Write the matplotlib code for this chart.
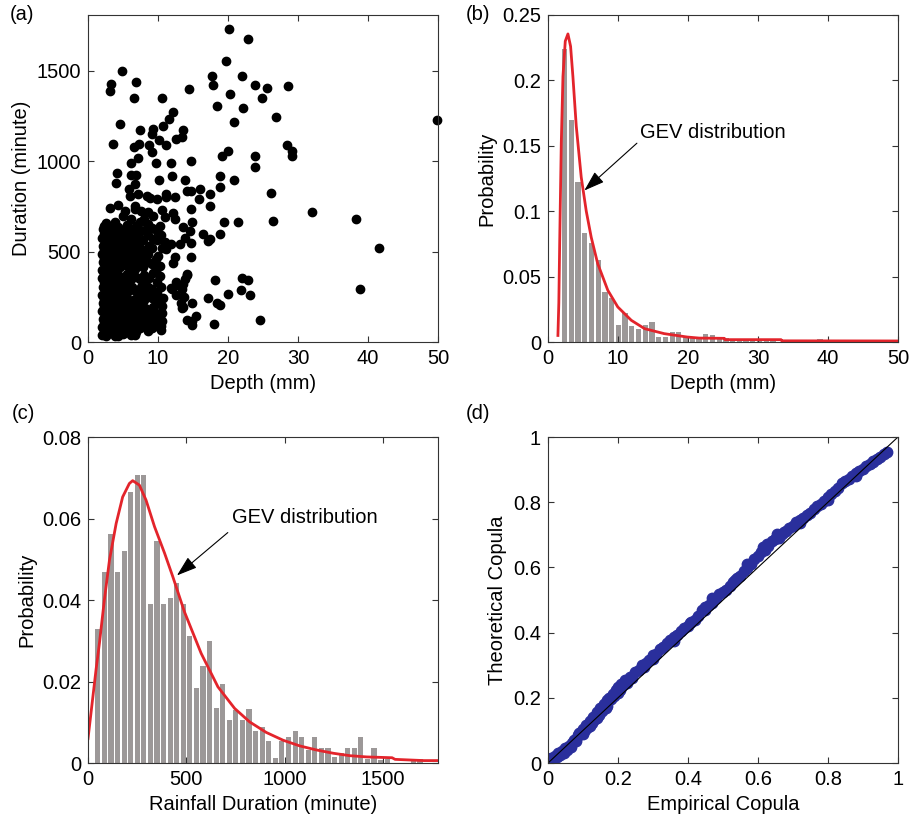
import numpy as np
import matplotlib
matplotlib.use("Agg")
from matplotlib import pyplot as plt
from matplotlib import ticker

plt.rcParams["font.family"] = ["Liberation Sans", "DejaVu Sans"]
plt.rcParams["font.size"] = 14.5

# (a) rainfall events: (depth mm, duration min)
outer_pts = [
    (20.2, 1731), (22.9, 1672), (19.7, 1550), (4.8, 1496), (17.7, 1472), (22.0, 1472),
    (6.9, 1439), (3.3, 1424), (3.1, 1387), (17.9, 1420), (23.9, 1420), (25.6, 1404),
    (28.6, 1413), (14.5, 1398), (6.6, 1346), (20.3, 1369), (24.9, 1346), (10.5, 1346),
    (18.4, 1304), (22.2, 1294), (12.1, 1272), (26.9, 1243), (49.8, 1226), (4.6, 1202),
    (20.8, 1213), (11.6, 1230), (10.7, 1193), (7.4, 1170), (9.3, 1176), (9.1, 1152),
    (13.5, 1170), (13.4, 1135), (12.6, 1124), (10.2, 1115), (11.2, 1087), (3.6, 1093),
    (7.3, 1093), (6.6, 1078), (8.7, 1087), (9.1, 1050), (28.4, 1087), (29.1, 1054),
    (29.2, 1028), (20.0, 1054), (19.2, 1028), (23.9, 1026), (23.9, 967), (7.1, 1017),
    (6.2, 991), (9.7, 991), (11.9, 991), (14.7, 1000), (4.1, 935), (4.0, 878),
    (6.2, 925), (6.9, 925), (6.7, 874), (5.9, 846), (12.0, 920), (18.9, 920),
    (20.9, 893), (13.9, 893), (10.2, 893), (18.9, 856), (16.0, 843), (17.5, 819),
    (26.2, 824), (15.9, 791), (14.2, 833), (14.7, 833), (17.5, 750), (11.2, 800),
    (12.4, 800), (11.2, 818), (6.0, 809), (7.2, 818), (8.4, 809), (8.8, 794),
    (9.8, 790), (6.7, 753), (6.7, 735), (3.1, 738), (4.3, 757), (5.3, 725),
    (7.6, 725), (8.6, 716), (9.3, 698), (10.5, 729), (11.0, 688), (12.2, 712),
    (12.4, 679), (14.7, 735), (13.6, 633), (32.0, 717), (38.3, 680), (26.5, 670),
    (21.4, 665), (19.4, 665), (14.8, 665), (16.4, 596), (17.1, 559), (17.4, 569),
    (18.9, 596), (41.6, 520), (14.7, 546), (14.6, 611), (13.8, 572), (13.2, 541),
    (11.9, 540), (11.2, 513), (11.0, 550), (12.4, 467), (12.2, 439), (10.0, 476),
    (9.8, 411), (10.3, 420), (14.7, 469), (14.1, 374), (13.8, 346), (13.6, 318),
    (13.4, 294), (12.5, 257), (13.3, 216), (13.4, 188), (11.9, 300), (10.7, 244),
    (10.3, 226), (9.8, 216), (10.5, 161), (9.3, 152), (8.6, 143), (10.5, 115),
    (10.4, 68), (9.1, 96), (9.8, 87), (7.2, 78), (6.0, 59), (6.7, 41), (5.3, 59),
    (4.3, 31), (14.8, 115), (18.1, 343), (22.0, 354), (22.9, 343), (21.9, 287),
    (23.1, 261), (38.9, 294), (20.0, 263), (17.2, 244), (18.4, 213), (18.9, 202),
    (14.8, 213), (13.5, 194), (13.7, 248), (12.0, 294), (13.1, 309), (15.5, 146),
    (14.1, 119), (14.9, 96), (18.0, 102), (24.6, 120), (14.1, 369), (12.5, 331),
]
core_pts = [
    (2.0, 38), (2.0, 82), (2.1, 128), (2.0, 171), (2.1, 218), (2.0, 262), (2.1, 305),
    (2.0, 352), (2.0, 398), (2.1, 441), (2.0, 487), (2.1, 533), (2.0, 575), (2.1, 622),
    (2.3, 60), (2.3, 104), (2.4, 150), (2.3, 195), (2.3, 240), (2.4, 285), (2.3, 330),
    (2.3, 375), (2.4, 420), (2.3, 465), (2.3, 510), (2.4, 555), (2.3, 598), (2.3, 640),
    (2.6, 34), (2.5, 76), (2.6, 118), (2.7, 163), (2.5, 209), (2.6, 251), (2.7, 297),
    (2.5, 343), (2.6, 388), (2.7, 432), (2.5, 478), (2.6, 522), (2.7, 568), (2.5, 612),
    (2.6, 658), (2.9, 55), (2.9, 100), (3.0, 146), (2.9, 190), (2.9, 235), (3.0, 280),
    (2.9, 325), (2.9, 370), (3.0, 415), (2.9, 460), (2.9, 505), (3.0, 550), (2.9, 600),
    (3.2, 48), (3.1, 93), (3.3, 137), (3.2, 183), (3.1, 228), (3.3, 272),
    (3.2, 318), (3.1, 362), (3.3, 407), (3.2, 452), (3.1, 498), (3.3, 543), (3.2, 588),
    (3.1, 633), (3.5, 60), (3.5, 105), (3.5, 150), (3.6, 195), (3.5, 240), (3.5, 285),
    (3.6, 330), (3.5, 375), (3.5, 420), (3.6, 465), (3.5, 510), (3.5, 555), (3.6, 600),
    (3.8, 33), (3.7, 78), (3.9, 122), (3.8, 168), (3.7, 213), (3.9, 257),
    (3.8, 302), (3.7, 348), (3.9, 392), (3.8, 437), (3.7, 483), (3.9, 528), (3.8, 572),
    (3.7, 617), (3.9, 662), (4.1, 55), (4.1, 100), (4.2, 145), (4.1, 190), (4.1, 235),
    (4.2, 280), (4.1, 325), (4.1, 370), (4.2, 415), (4.1, 460), (4.1, 505), (4.2, 550),
    (4.1, 600), (4.4, 53), (4.3, 98), (4.5, 142), (4.4, 188), (4.3, 233),
    (4.5, 277), (4.4, 322), (4.3, 368), (4.5, 413), (4.4, 458), (4.3, 503), (4.5, 547),
    (4.4, 592), (4.3, 638), (4.7, 65), (4.7, 110), (4.8, 155), (4.7, 200), (4.7, 245),
    (4.8, 290), (4.7, 335), (4.8, 425), (4.7, 475), (4.7, 520), (4.8, 570), (4.7, 620),
    (5.0, 42), (4.9, 86), (5.1, 131), (5.0, 176), (4.9, 222),
    (5.1, 266), (5.0, 311), (4.9, 358), (5.1, 452), (5.0, 498), (4.9, 543), (5.1, 588),
    (5.0, 698), (5.3, 80), (5.3, 170), (5.4, 260), (5.3, 350), (5.4, 440), (5.3, 530),
    (5.6, 61), (5.5, 104), (5.7, 152), (5.6, 196), (5.5, 241), (5.7, 286),
    (5.6, 331), (5.5, 378), (5.7, 421), (5.6, 468), (5.5, 514), (5.7, 559), (5.6, 648),
    (5.9, 110), (5.9, 200), (6.0, 290), (5.9, 380), (6.0, 500), (5.9, 600),
    (6.2, 36), (6.1, 81), (6.3, 126), (6.2, 171), (6.1, 218), (6.3, 302), (6.2, 346),
    (6.1, 391), (6.3, 436), (6.2, 481), (6.1, 526), (6.3, 571), (6.2, 612), (6.1, 682),
    (6.8, 56), (6.7, 101), (6.9, 146), (6.8, 191), (6.7, 236), (6.9, 282), (6.8, 361),
    (6.7, 406), (6.9, 451), (6.8, 496), (6.7, 541), (6.9, 591), (6.8, 642),
    (7.4, 76), (7.3, 121), (7.5, 166), (7.4, 211), (7.3, 256), (7.5, 302), (7.4, 346),
    (7.3, 431), (7.5, 476), (7.4, 521), (7.3, 566), (7.5, 611), (7.4, 661),
    (8.0, 96), (7.9, 141), (8.1, 186), (8.0, 231), (7.9, 276), (8.1, 321), (8.0, 371),
    (7.9, 416), (8.1, 461), (8.0, 506), (7.9, 561), (8.1, 621), (8.0, 681),
    (8.6, 61), (8.5, 116), (8.7, 171), (8.6, 262), (8.5, 306), (8.7, 351), (8.6, 441),
    (8.5, 486), (8.7, 531), (8.6, 591), (8.5, 652),
    (9.2, 76), (9.1, 131), (9.3, 191), (9.2, 241), (9.1, 291), (9.3, 381), (9.2, 431),
    (9.1, 521), (9.3, 571), (9.2, 632),
    (9.8, 111), (9.7, 161), (9.9, 271), (9.8, 331), (9.7, 461), (9.9, 562), (9.8, 612),
    (10.4, 91), (10.3, 141), (10.5, 201), (10.4, 302), (10.3, 362), (10.5, 521),
    (10.4, 592), (10.3, 641),
]

# (b) depth histogram and fitted GEV pdf
depth_bin_first = 2.38
depth_bin_width = 0.96
depth_prob = [0.224, 0.170, 0.122, 0.083, 0.076, 0.063, 0.038, 0.034, 0.013, 0.022,
              0.012, 0.010, 0.013, 0.015, 0.004, 0.004, 0.008, 0.008, 0.004, 0.004,
              0.003, 0.006, 0.005, 0.003, 0.003, 0.002, 0.002, 0.002, 0.002, 0.001,
              0.001, 0.001, 0, 0, 0, 0, 0, 0, 0.002, 0,
              0, 0, 0, 0, 0, 0, 0, 0, 0, 0]
gev_depth_x = [1.42, 1.55, 1.67, 1.9, 2.14, 2.47, 2.85, 3.23, 3.56, 4.04, 4.75, 5.47,
               6.18, 7.1, 8.55, 9.97, 11.9, 13.8, 16.6, 19.9, 21.6, 25.2, 25.3, 33.3,
               33.4, 50.0]
gev_depth_y = [0.005, 0.03, 0.075, 0.152, 0.203, 0.23, 0.2355, 0.226, 0.203, 0.165,
               0.126, 0.1, 0.08, 0.06, 0.0395, 0.0268, 0.0166, 0.0102, 0.0064, 0.0038,
               0.003, 0.0028, 0.0018, 0.0018, 0.0009, 0.0008]

# (c) duration histogram and fitted GEV pdf
dur_bin_first = 50
dur_bin_width = 33.4
dur_prob = [0.0328, 0.0468, 0.0561, 0.0468, 0.052, 0.0666, 0.0707, 0.0707, 0.039, 0.0546,
            0.039, 0.0406, 0.0442, 0.039, 0.0312, 0.0183, 0.0237, 0.030, 0.0135, 0.0194,
            0.0105, 0.0130, 0.0105, 0.0132, 0.0079, 0.0089, 0.0053, 0.0012, 0.0053, 0.0065,
            0.0079, 0.0065, 0.0032, 0.0065, 0.0038, 0.0038, 0.0014, 0.0024, 0.0038, 0.0038,
            0.0065, 0.0011, 0.0038, 0.0008, 0.001, 0, 0, 0, 0.001, 0.001]
gev_dur_x = [0, 41, 58, 83, 109, 143, 176, 210, 227, 261, 295, 338, 389, 431, 490, 575,
             660, 745, 821, 906, 991, 1076, 1161, 1246, 1331, 1415, 1545, 1560, 1707, 1778]
gev_dur_y = [0.006, 0.023, 0.0294, 0.040, 0.0498, 0.0588, 0.0653, 0.0686, 0.0693, 0.0682,
             0.0645, 0.058, 0.0515, 0.0457, 0.0371, 0.0269, 0.0187, 0.0134, 0.0101, 0.0075,
             0.0056, 0.0042, 0.0032, 0.0024, 0.0018, 0.0015, 0.0013, 0.0009, 0.0006, 0.0006]

# (d) empirical vs theoretical copula
copula_pts = [
    (0.0, 0.005), (0.003, 0.012), (0.006, 0.002), (0.01, 0.015), (0.015, 0.008),
    (0.02, 0.022), (0.025, 0.018), (0.03, 0.03), (0.035, 0.025), (0.04, 0.038),
    (0.045, 0.032), (0.05, 0.045), (0.055, 0.04), (0.06, 0.052), (0.065, 0.05),
    (0.07, 0.06), (0.075, 0.07), (0.08, 0.075), (0.085, 0.085), (0.09, 0.092),
    (0.095, 0.095), (0.1, 0.105), (0.105, 0.1), (0.11, 0.118), (0.115, 0.112),
    (0.12, 0.13), (0.125, 0.122), (0.13, 0.142), (0.135, 0.135), (0.14, 0.158),
    (0.145, 0.148), (0.15, 0.168), (0.155, 0.16), (0.16, 0.18), (0.165, 0.17),
    (0.17, 0.192), (0.175, 0.2), (0.18, 0.195), (0.185, 0.212), (0.19, 0.205),
    (0.195, 0.225), (0.2, 0.232), (0.205, 0.225), (0.21, 0.242), (0.215, 0.238),
    (0.22, 0.255), (0.23, 0.255), (0.235, 0.265), (0.24, 0.262), (0.25, 0.278),
    (0.26, 0.285), (0.27, 0.3), (0.28, 0.308), (0.29, 0.315), (0.3, 0.33),
    (0.31, 0.335), (0.32, 0.35), (0.33, 0.355), (0.34, 0.368), (0.35, 0.378),
    (0.36, 0.388), (0.37, 0.392), (0.38, 0.405), (0.39, 0.415), (0.4, 0.42),
    (0.41, 0.432), (0.42, 0.44), (0.43, 0.452), (0.44, 0.468), (0.45, 0.478),
    (0.46, 0.485), (0.47, 0.492), (0.48, 0.505), (0.49, 0.518), (0.5, 0.525),
    (0.51, 0.532), (0.52, 0.542), (0.53, 0.555), (0.54, 0.568), (0.55, 0.575),
    (0.56, 0.59), (0.57, 0.598), (0.58, 0.61), (0.59, 0.625), (0.6, 0.635),
    (0.61, 0.648), (0.62, 0.655), (0.63, 0.665), (0.64, 0.68), (0.65, 0.688),
    (0.66, 0.69), (0.67, 0.702), (0.68, 0.712), (0.69, 0.72), (0.7, 0.728),
    (0.71, 0.738), (0.72, 0.745), (0.73, 0.752), (0.74, 0.76), (0.75, 0.768),
    (0.76, 0.778), (0.77, 0.788), (0.78, 0.795), (0.79, 0.805), (0.8, 0.815),
    (0.81, 0.825), (0.82, 0.835), (0.83, 0.845), (0.84, 0.858), (0.85, 0.865),
    (0.86, 0.872), (0.87, 0.88), (0.88, 0.89), (0.89, 0.895), (0.9, 0.902),
    (0.91, 0.91), (0.92, 0.918), (0.93, 0.928), (0.94, 0.932), (0.95, 0.94),
    (0.96, 0.948), (0.97, 0.955),
    (0.615, 0.662), (0.625, 0.672), (0.655, 0.702), (0.675, 0.71), (0.535, 0.56),
    (0.45, 0.47), (0.405, 0.43), (0.275, 0.295), (0.195, 0.215), (0.16, 0.172),
    (0.12, 0.115), (0.14, 0.138), (0.17, 0.175), (0.2, 0.215), (0.225, 0.245),
    (0.3, 0.318), (0.36, 0.375), (0.47, 0.505), (0.57, 0.61), (0.72, 0.735),
    (0.8, 0.808), (0.88, 0.882), (0.93, 0.922), (0.08, 0.068), (0.1, 0.09),
]

RED = "#e3242b"
GRAY = "#9c9898"
BLUE = "#2a2f9c"

fig = plt.figure(figsize=(9.13, 8.18), dpi=100)
w, h = 0.3833, 0.3998
ax_a = fig.add_axes([0.0964, 0.5819, w, h])
ax_b = fig.add_axes([0.6002, 0.5819, w, h])
ax_c = fig.add_axes([0.0964, 0.0672, w, 0.3985])
ax_d = fig.add_axes([0.6002, 0.0672, w, 0.3985])

for ax in (ax_a, ax_b, ax_c, ax_d):
    ax.tick_params(direction="in", top=True, right=True, length=4, width=0.8,
                   pad=5, labelsize=14.5, color="#333333")
    for s in ax.spines.values():
        s.set_linewidth(0.8)
        s.set_color("#333333")
    ax.xaxis.set_major_formatter(ticker.FormatStrFormatter("%g"))
    ax.yaxis.set_major_formatter(ticker.FormatStrFormatter("%g"))

# (a)
pts = np.array(outer_pts + core_pts)
ax_a.plot(pts[:, 0], pts[:, 1], "o", color="black", markersize=6, clip_on=False)
ax_a.set_xlim(0, 50)
ax_a.set_ylim(0, 1807)
ax_a.set_xticks([0, 10, 20, 30, 40, 50])
ax_a.set_yticks([0, 500, 1000, 1500])
ax_a.set_xlabel("Depth (mm)")
ax_a.set_ylabel("Duration (minute)")

# (b)
centers_b = depth_bin_first + depth_bin_width * np.arange(len(depth_prob))
ax_b.bar(centers_b, depth_prob, width=depth_bin_width * 0.78, color=GRAY)
ax_b.plot(gev_depth_x, gev_depth_y, color=RED, lw=2)
ax_b.set_xlim(0, 50)
ax_b.set_ylim(0, 0.25)
ax_b.set_xticks([0, 10, 20, 30, 40, 50])
ax_b.set_yticks([0, 0.05, 0.1, 0.15, 0.2, 0.25])
ax_b.set_xlabel("Depth (mm)")
ax_b.set_ylabel("Probability")
ax_b.text(13.1, 0.16, "GEV distribution", va="center", ha="left")
ax_b.annotate("", xy=(4.9, 0.1144), xytext=(13.0, 0.1534),
              arrowprops=dict(arrowstyle="-|>,head_length=0.9,head_width=0.3",
                              color="black", lw=0.8, mutation_scale=14))

# (c)
centers_c = dur_bin_first + dur_bin_width * np.arange(len(dur_prob))
ax_c.bar(centers_c, dur_prob, width=dur_bin_width * 0.78, color=GRAY)
ax_c.plot(gev_dur_x, gev_dur_y, color=RED, lw=2)
ax_c.set_xlim(0, 1778)
ax_c.set_ylim(0, 0.08)
ax_c.set_xticks([0, 500, 1000, 1500])
ax_c.set_yticks([0, 0.02, 0.04, 0.06, 0.08])
ax_c.set_xlabel("Rainfall Duration (minute)")
ax_c.set_ylabel("Probability")
ax_c.text(730, 0.0603, "GEV distribution", va="center", ha="left")
ax_c.annotate("", xy=(441, 0.0456), xytext=(721, 0.057),
              arrowprops=dict(arrowstyle="-|>,head_length=0.9,head_width=0.3",
                              color="black", lw=0.8, mutation_scale=14))

# (d)
cp = np.array(copula_pts)
ax_d.plot(cp[:, 0], cp[:, 1], "o", color=BLUE, markersize=7.5)
ax_d.plot([0, 1], [0, 1], color="black", lw=0.8)
ax_d.set_xlim(0, 1)
ax_d.set_ylim(0, 1)
ax_d.set_xticks([0, 0.2, 0.4, 0.6, 0.8, 1])
ax_d.set_yticks([0, 0.2, 0.4, 0.6, 0.8, 1])
ax_d.set_xlabel("Empirical Copula")
ax_d.set_ylabel("Theoretical Copula")

for lab, x, y in [("(a)", 0.011, 0.982), ("(b)", 0.510, 0.982),
                  ("(c)", 0.013, 0.494), ("(d)", 0.510, 0.494)]:
    fig.text(x, y, lab, ha="left", va="center", fontsize=14.5)

fig.savefig("out.png", dpi=100)
